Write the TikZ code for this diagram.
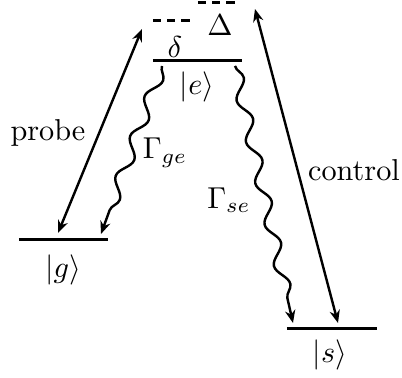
\documentclass[tikz,border=0pt]{standalone}
\usepackage{amsmath}
\usetikzlibrary{positioning,arrows.meta,decorations.pathmorphing,calc}

\begin{document}
\begin{tikzpicture}[
  x=0.01163cm, y=0.01163cm,
  level/.style={line width=1pt},
  virt/.style={line width=1pt, dash pattern=on 2.7pt off 2pt},
  laser/.style={line width=0.8pt, {Stealth[length=4.2pt,width=3.4pt]}-{Stealth[length=4.2pt,width=3.4pt]}},
  decay/.style={line width=0.8pt, -{Stealth[length=4.2pt,width=3.4pt]},
                decorate, decoration={snake, amplitude=2pt, segment length=14pt,
                post length=4pt}},
  lbl/.style={inner sep=1pt}
]
\useasboundingbox (0,0) rectangle (402,378);
% energy levels
\coordinate (gL) at (19,138);  \coordinate (gR) at (108,138);
\coordinate (eL) at (153,317); \coordinate (eR) at (242,317);
\coordinate (sL) at (287,49);  \coordinate (sR) at (377,49);
\coordinate (pL) at (153,357); \coordinate (pR) at (193,357);
\coordinate (cL) at (198,375); \coordinate (cR) at (238,375);
\draw[level] (gL) -- (gR);
\draw[level] (eL) -- (eR);
\draw[level] (sL) -- (sR);
\draw[virt] (pL) -- (pR);
\draw[virt] (cL) -- (cR);
\node[lbl] (g) at (63,108) {$|g\rangle$};
\node[lbl] (e) at (197,291) {$|e\rangle$};
\node[lbl] (s) at (330,23) {$|s\rangle$};
\node[lbl] (delta) at (175,331) {$\delta$};
\node[lbl] (Delta) at (220,353) {$\Delta$};
% couplings
\coordinate (probeB) at (58,145);  \coordinate (probeT) at (142,349);
\coordinate (ctrlT) at (255,369);  \coordinate (ctrlB) at (338,55);
\draw[laser] (probeB) -- (probeT);
\draw[laser] (ctrlT) -- (ctrlB);
\node[lbl] (probe) at (48,245) {probe};
\node[lbl] (control) at (354,208) {control};
% decays
\coordinate (geT) at (162,312); \coordinate (geB) at (101,144);
\coordinate (seT) at (235,312); \coordinate (seB) at (293,55);
\draw[decay] (geT) -- (geB);
\draw[decay] (seT) -- (seB);
\node[lbl] (Gge) at (165,225) {$\Gamma_{ge}$};
\node[lbl] (Gse) at (229,178) {$\Gamma_{se}$};
\end{tikzpicture}
\end{document}
